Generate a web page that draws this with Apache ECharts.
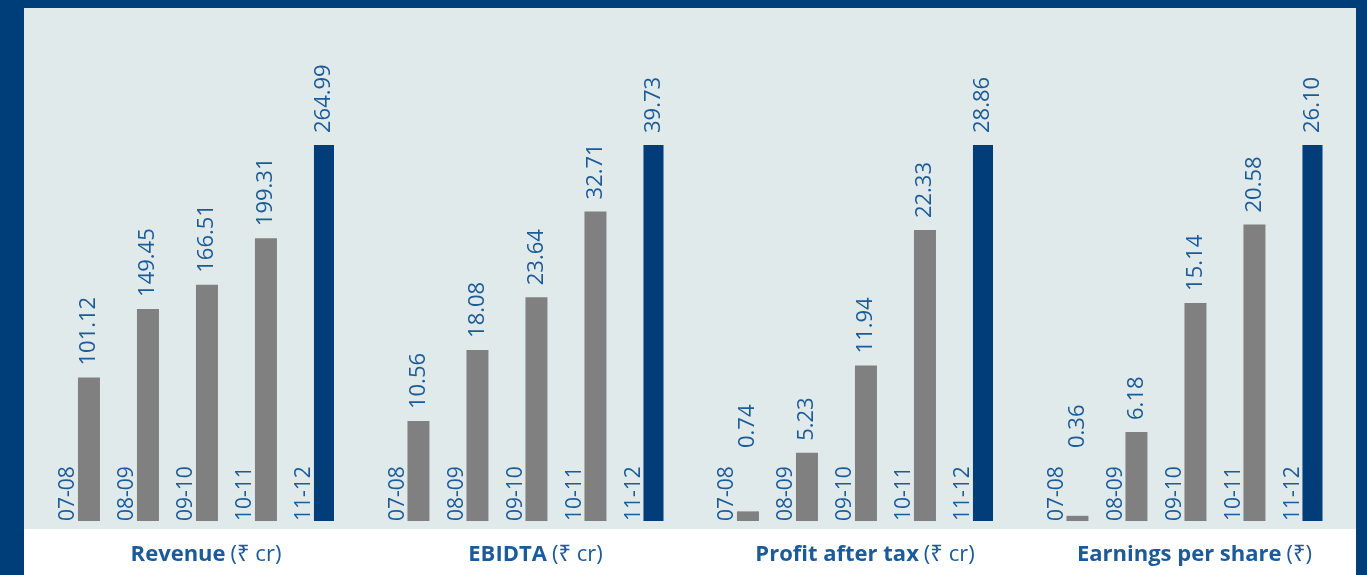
<!DOCTYPE html>
<html>
<head>
<meta charset="utf-8">
<script src="https://cdn.jsdelivr.net/npm/echarts@6/dist/echarts.min.js"></script>
<style>
  html, body { margin: 0; padding: 0; background: #fff; }
  #main { width: 1367px; height: 575px; }
</style>
</head>
<body>
<div id="main"></div>
<script>
var years = ['07-08', '08-09', '09-10', '10-11', '11-12'];
var revenue = [101.12, 149.45, 166.51, 199.31, 264.99];
var ebidta = [10.56, 18.08, 23.64, 32.71, 39.73];
var profit = [0.74, 5.23, 11.94, 22.33, 28.86];
var eps = [0.36, 6.18, 15.14, 20.58, 26.10];
var titles = [
    ['Revenue', '(₹ cr)'],
    ['EBIDTA', '(₹ cr)'],
    ['Profit after tax', '(₹ cr)'],
    ['Earnings per share', '(₹)']
];
var panels = [revenue, ebidta, profit, eps];

var font = "'Open Sans', 'Noto Sans', 'DejaVu Sans', sans-serif";
var textBlue = '#1c5b97';
var plotHeight = 376;
var grids = [], xAxes = [], yAxes = [], series = [], titleList = [];

panels.forEach(function (values, i) {
    var left = 39 + 329.5 * i;
    var max = Math.max.apply(null, values);
    grids.push({ left: left, width: 295, top: 145, height: plotHeight });
    xAxes.push({
        type: 'category',
        gridIndex: i,
        data: years,
        axisLine: { show: false },
        axisTick: { show: false },
        axisLabel: {
            inside: true,
            rotate: 90,
            margin: 0,
            color: textBlue,
            fontFamily: font,
            fontSize: 21
        }
    });
    yAxes.push({ type: 'value', gridIndex: i, min: 0, max: 'dataMax', show: false });
    // invisible spacer so the real bar sits to the right of the year label
    series.push({
        type: 'bar',
        xAxisIndex: i,
        yAxisIndex: i,
        data: values.map(function () { return 0; }),
        barWidth: 22,
        barGap: '86%',
        itemStyle: { color: 'rgba(0,0,0,0)' },
        silent: true
    });
    series.push({
        type: 'bar',
        xAxisIndex: i,
        yAxisIndex: i,
        barWidth: 22,
        barGap: '86%',
        data: values.map(function (v, j) {
            // keep tiny-bar labels clear of the year labels
            var dist = Math.max(12, 73 - plotHeight * v / max);
            return {
                value: v,
                itemStyle: { color: j === values.length - 1 ? '#003d79' : '#808080' },
                label: { distance: dist }
            };
        }),
        label: {
            show: true,
            position: 'top',
            rotate: 90,
            align: 'left',
            verticalAlign: 'middle',
            color: textBlue,
            fontFamily: font,
            fontSize: 22,
            formatter: function (p) { return p.value.toFixed(2); }
        }
    });
    titleList.push({
        text: '{b|' + titles[i][0] + '} {n|' + titles[i][1] + '}',
        left: left + 162,
        top: 539,
        textAlign: 'center',
        textStyle: {
            rich: {
                b: { fontFamily: font, fontSize: 22, fontWeight: 'bold', color: textBlue },
                n: { fontFamily: font, fontSize: 22, fontWeight: 'normal', color: textBlue }
            }
        }
    });
});

var chart = echarts.init(document.getElementById('main'));
chart.setOption({
    backgroundColor: '#003e7a',
    animation: false,
    graphic: [
        { type: 'rect', shape: { x: 24, y: 8, width: 1332, height: 521 }, style: { fill: '#e1eaeb' }, z: -10 },
        { type: 'rect', shape: { x: 24, y: 529, width: 1332, height: 46 }, style: { fill: '#ffffff' }, z: -10 }
    ],
    title: titleList,
    grid: grids,
    xAxis: xAxes,
    yAxis: yAxes,
    series: series
});
</script>
</body>
</html>
